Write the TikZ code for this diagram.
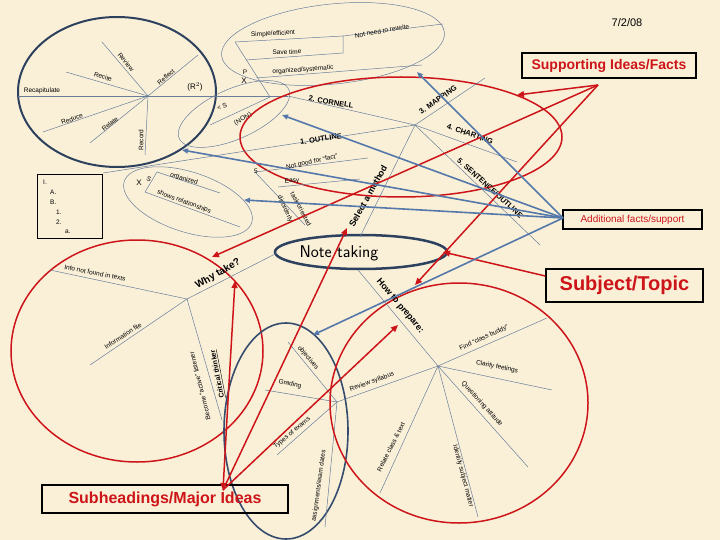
\documentclass[tikz,border=0pt]{standalone}
\usepackage{fontspec}
\setmainfont{Liberation Sans}
\usetikzlibrary{arrows.meta}
\definecolor{bg}{RGB}{250,240,216}
\definecolor{thinc}{RGB}{105,125,155}
\definecolor{steel}{RGB}{85,120,170}
\definecolor{navy}{RGB}{45,65,95}
\definecolor{rd}{RGB}{205,20,25}
\begin{document}
\begin{tikzpicture}[x=1pt,y=-1pt,
  thinl/.style={draw=thinc,line width=0.5pt},
  bluea/.style={draw=steel,line width=1.6pt,-{Triangle[length=6pt,width=5pt]}},
  redl/.style={draw=rd,line width=1.5pt},
  reda/.style={draw=rd,line width=1.5pt,-{Triangle[length=7pt,width=6pt]}},
  lbl/.style={font=\fontsize{6.5}{7}\selectfont,inner sep=0pt},
  blbl/.style={font=\fontsize{7.5}{8}\selectfont\bfseries,inner sep=0pt},
  rbox/.style={draw=black,line width=1.3pt,text=rd,inner sep=0pt}]
\path[fill=bg] (0,0) rectangle (720,540);
\useasboundingbox (0,0) rectangle (720,540);

% ---------- R^2 circle ----------
\draw[navy,line width=2pt] (117,92) ellipse [x radius=99,y radius=75];
\coordinate (rhub) at (148,96);
\coordinate (rrev) at (102,42);
\coordinate (rrec) at (66,72);
\coordinate (rref) at (198,55);
\coordinate (rcap) at (18,96);
\coordinate (rred) at (43,132);
\coordinate (rrel) at (90,143);
\coordinate (rrcd) at (145,155);
\foreach \e in {rrev,rrec,rref,rred,rrel,rrcd} \draw[thinl] (rhub) -- (\e);
\draw[thinl] (rcap) -- (288,96);
\node[lbl,rotate=-50] (lrev) at (126,62) {Review};
\node[lbl,rotate=-16] (lrec) at (103,77) {Recite};
\node[lbl,rotate=40] (lref) at (166,77) {Reflect};
\node[lbl] (lcap) at (42,91) {Recapitulate};
\node[lbl,rotate=19] (lred) at (72,119) {Reduce};
\node[lbl,rotate=39] (lrel) at (110,124) {Relate};
\node[lbl,rotate=90] (lrcd) at (141,140) {Record};
\node[font=\fontsize{8}{9}\selectfont,inner sep=0pt] (lr2) at (195,87) {(R$^2$)};

% ---------- top thin ellipse (purpose) ----------
\draw[thinl,rotate around={6:(333,44)}] (333,44) ellipse [x radius=112,y radius=40];
\coordinate (p1) at (235,42);
\coordinate (p2) at (343,36);
\coordinate (p3) at (343,53);
\coordinate (p4) at (246,60);
\coordinate (ptip) at (270,97);
\draw[thinl] (p1) -- (p2) -- (p3) -- (p4);
\draw[thinl] (p2) -- (443,24);
\draw[thinl] (p1) -- (ptip);
\draw[thinl] (256,78) -- (422,65);
\node[lbl,rotate=3] (lsimp) at (273,34) {Simple/efficient};
\node[lbl,rotate=2] (lsave) at (287,52) {Save time};
\node[lbl,rotate=4] (lorg) at (303,70) {organized/systematic};
\node[lbl,rotate=10] (lnot) at (382,31) {Not need to rewrite};
\node[lbl] (lp) at (245,72) {P};
\node[font=\fontsize{8}{9}\selectfont,inner sep=0pt] (lx) at (244,81) {X};

% ---------- S (NON) ellipse ----------
\draw[thinl,rotate around={24:(234,114)}] (234,114) ellipse [x radius=60,y radius=25];
\draw[thinl] (ptip) -- (210,125);
\node[lbl,rotate=20] (ls) at (222,107) {< S};
\node[lbl,rotate=30] (lnon) at (243,119) {(NON)};

% ---------- red supporting ellipse and method hub ----------
\draw[redl] (401,137) ellipse [x radius=161,y radius=60];
\coordinate (mhub) at (415,125);
\draw[thinl] (288,96) -- (mhub);
\draw[thinl] (103,173) -- (mhub);
\draw[thinl] (mhub) -- (485,78);
\draw[thinl] (mhub) -- (517,162);
\draw[thinl] (mhub) -- (540,245);
\node[blbl,rotate=-10] (lcor) at (331,102) {2. CORNELL};
\node[blbl,rotate=9] (lout) at (321,139) {1. OUTLINE};
\node[blbl,rotate=35] (lmap) at (438,100) {3. MAPPING};
\node[blbl,rotate=-20] (lcha) at (470,134) {4. CHARTING};
\node[blbl,rotate=-42] (lsen) at (490,188) {5. SENTENCE/OUTLINE};

% ---------- outline box ----------
\draw[black,line width=0.6pt] (37,174) rectangle (102,238);
\node[lbl,anchor=west] (o1) at (43,182) {I.};
\node[lbl,anchor=west] (o2) at (50,192) {A.};
\node[lbl,anchor=west] (o3) at (50,202) {B.};
\node[lbl,anchor=west] (o4) at (56,212) {1.};
\node[lbl,anchor=west] (o5) at (56,222) {2.};
\node[lbl,anchor=west] (o6) at (65,232) {a.};

% ---------- X S ellipse ----------
\draw[thinl,rotate around={-18:(188,202)}] (188,202) ellipse [x radius=67,y radius=30];
\draw[thinl] (220,193) -- (157,172) -- (145,192) -- (240,227);
\node[font=\fontsize{8}{9}\selectfont,inner sep=0pt] (lxs) at (139,183) {X};
\node[lbl,rotate=-20] (lxs2) at (149,179) {S};
\node[lbl,rotate=-18] (lorg2) at (184,179) {organized};
\node[lbl,rotate=-20] (lrelsh) at (184,202) {shows relationships};

% ---------- S not good ----------
\coordinate (shub) at (255,172);
\draw[thinl] (shub) -- (368,158);
\draw[thinl] (shub) -- (305,225);
\draw[thinl] (278,187) -- (360,179);
\node[lbl] (ls5) at (256,171) {5};
\node[lbl,rotate=12] (lngood) at (312,162) {Not good for ``fact''};
\node[lbl,rotate=5] (leasy) at (292,181) {Easy};
\node[lbl,rotate=-62] (ltask) at (301,209) {task oriented};
\node[lbl,rotate=-65] (ldis) at (285,209) {disorderly};

% ---------- Note taking ----------
\draw[navy,line width=2.5pt] (361,252) ellipse [x radius=86,y radius=17];
\node[font=\sffamily\fontsize{17}{18}\selectfont,inner sep=0pt] (note) at (339,253) {Note taking};
\draw[thinl] (360,237) -- (mhub);
\node[font=\fontsize{9}{10}\selectfont\bfseries,rotate=61,inner sep=0pt] (lsel) at (368,196) {Select a method};

% ---------- Why take circle ----------
\draw[redl] (137,351) ellipse [x radius=126,y radius=111];
\coordinate (whub) at (187,299);
\draw[thinl] (277,253) -- (whub);
\draw[thinl] (whub) -- (50,270);
\draw[thinl] (whub) -- (90,365);
\draw[thinl] (whub) -- (222,420);
\node[font=\fontsize{10}{11}\selectfont\bfseries,rotate=30,inner sep=0pt] (lwhy) at (218,274) {Why take?};
\node[lbl,rotate=-11] (linfo) at (95,273) {Info not found in texts};
\node[lbl,rotate=33] (lfile) at (123,336) {Information file};
\node[lbl,rotate=104] (lact) at (200,386) {Become ``active'' listener};
\node[font=\fontsize{7}{8}\selectfont\bfseries,rotate=101,inner sep=0pt] (lcrit) at (218,374) {\underline{Critical thinker}};

% ---------- small blue ellipse ----------
\draw[navy!80!steel,line width=1.6pt] (286,431) ellipse [x radius=62,y radius=108];
\coordinate (bhub) at (337,402);
\draw[thinl] (bhub) -- (288,342);
\draw[thinl] (bhub) -- (265,390);
\draw[thinl] (bhub) -- (277,455);
\draw[thinl] (bhub) -- (325,527);
\node[lbl,rotate=-50] (lobj) at (308,358) {objectives};
\node[lbl,rotate=-12] (lgrad) at (290,384) {Grading};
\node[lbl,rotate=40] (ltyp) at (292,433) {Types of exams};
\node[lbl,rotate=82] (lass) at (319,486) {assignments/exam dates};

% ---------- How to prepare circle ----------
\draw[redl] (459,403) ellipse [x radius=129,y radius=120];
\coordinate (hhub) at (438,366);
\draw[thinl] (358,270) -- (hhub);
\draw[thinl] (bhub) -- (hhub);
\draw[thinl] (hhub) -- (547,318);
\draw[thinl] (hhub) -- (552,390);
\draw[thinl] (hhub) -- (528,467);
\draw[thinl] (hhub) -- (478,517);
\draw[thinl] (hhub) -- (380,493);
\node[font=\fontsize{9}{10}\selectfont\bfseries,rotate=-50,inner sep=0pt] (lhow) at (400,306) {How to prepare:};
\node[lbl,rotate=20] (lrsyl) at (372,382) {Review syllabus};
\node[lbl,rotate=25] (lbud) at (484,338) {Find ``class buddy''};
\node[lbl,rotate=-11] (lcla) at (497,367) {Clarify feelings};
\node[lbl,rotate=-48] (lque) at (482,404) {Questioning attitude};
\node[lbl,rotate=-75] (lide) at (463,476) {Identify subject matter};
\node[lbl,rotate=63] (lrct) at (391,447) {Relate class \& text};

% ---------- boxes ----------
\node[rbox,minimum width=174pt,minimum height=25pt,font=\fontsize{14}{16}\selectfont\bfseries] (sup) at (609,65.5) {Supporting Ideas/Facts};
\node[rbox,minimum width=139pt,minimum height=19pt,font=\fontsize{10}{11}\selectfont] (add) at (632.5,219.5) {Additional facts/support};
\node[rbox,minimum width=157pt,minimum height=33pt,font=\fontsize{20}{22}\selectfont\bfseries] (subj) at (624.5,285.5) {Subject/Topic};
\node[rbox,minimum width=246pt,minimum height=28pt,font=\fontsize{16}{18}\selectfont\bfseries] (subh) at (165,499) {Subheadings/Major Ideas};
\node[font=\fontsize{11}{12}\selectfont] (date) at (627,23) {7/2/08};

% ---------- red arrows ----------
\coordinate (supo) at (598,85);
\draw[reda] (supo) -- (517,95);
\draw[reda] (supo) -- (212,257);
\draw[reda] (supo) -- (415,285);
\draw[reda] (subj.west |- 0,276) -- (443,252);
\coordinate (subo) at (223,490);
\draw[draw=rd,line width=1.5pt,{Triangle[length=7pt,width=6pt]}-{Triangle[length=7pt,width=6pt]}] (subo) .. controls (228,400) .. (235,281);
\draw[reda] (subo) -- (347,228);
\draw[reda] (subo) -- (398,325);

% ---------- blue arrows ----------
\coordinate (addo) at (563,218);
\draw[bluea] (addo) -- (417,72);
\draw[bluea] (addo) -- (282,115);
\draw[bluea] (addo) -- (182,150);
\draw[bluea] (addo) -- (244,200);
\draw[bluea] (addo) -- (313,335);
\end{tikzpicture}
\end{document}
